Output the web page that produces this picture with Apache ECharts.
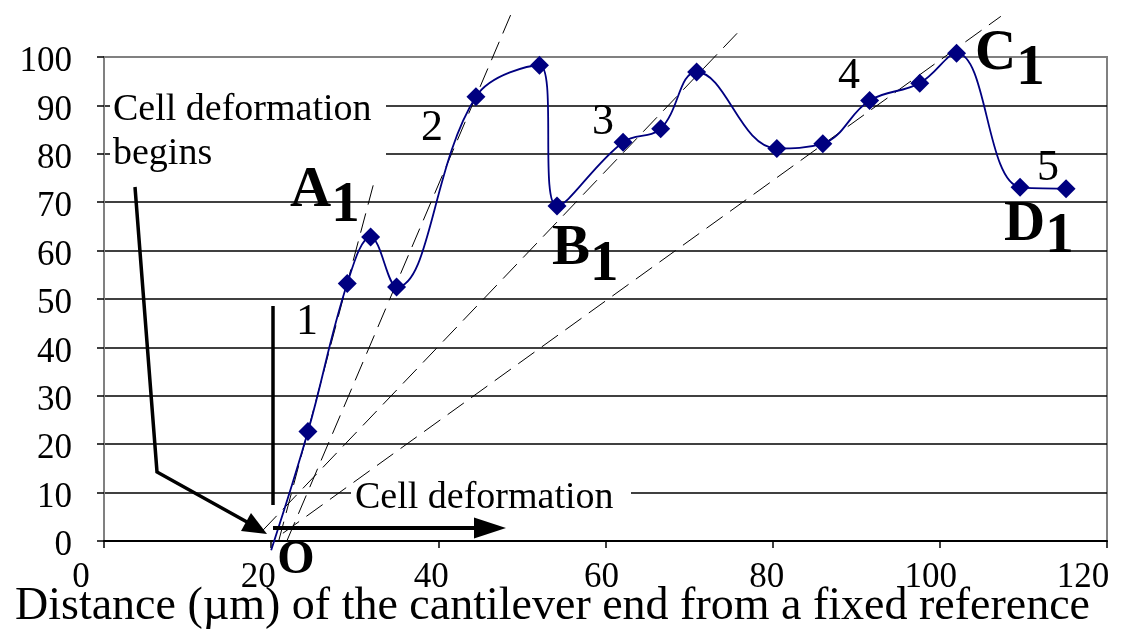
<!DOCTYPE html>
<html>
<head>
<meta charset="utf-8">
<script src="https://cdn.jsdelivr.net/npm/echarts@6/dist/echarts.min.js"></script>
<style>
html,body{margin:0;padding:0;background:#fff;}
#chart{width:1125px;height:636px;}
</style>
</head>
<body>
<div id="chart"></div>
<script>
// ---- data ----
const distance = [20, 24.4, 29.1, 31.9, 35.0, 44.5, 52.1, 54.2, 62.1, 66.6, 70.9, 80.5, 86.0, 91.6, 97.6, 102.0, 109.6, 115.1];
const deflection = [-1.9, 22.6, 53.2, 62.8, 52.5, 91.8, 98.3, 69.2, 82.4, 85.2, 96.9, 81.1, 82.1, 91.0, 94.6, 100.8, 73.1, 72.8];
// dashed guide lines (start and end points, data units)
const guideA = [[20.9, 0], [32.3, 74.1]];
const guideB = [[21.9, 0.1], [49.0, 110.1]];
const guideC = [[19.0, 2.2], [76.3, 105.9]];
const guideD = [[21.4, 1.6], [107.3, 108.4]];
const xTickValues = [0, 20, 40, 60, 80, 100, 120];
const yTickValues = [0, 10, 20, 30, 40, 50, 60, 70, 80, 90, 100];
const xTitle = 'Distance (\u00b5m) of the cantilever end from a fixed reference';

// ---- styling ----
const SERIF = "'Liberation Serif','Times New Roman',serif";
const xLabelShift = {0: -23, 20: -13, 40: -7, 60: -4, 80: -6, 100: -9, 120: -24};
const rich = {};
xTickValues.forEach(v => {
  const s = xLabelShift[v] || 0;
  rich['p' + v] = {fontFamily: SERIF, fontSize: 35, lineHeight: 35, color: '#000',
    padding: s < 0 ? [0, -2 * s, 0, 0] : [0, 0, 0, 2 * s]};
});
const splitColors = yTickValues.map(v => v === 100 ? '#808080' : '#000');

const pts = distance.map((x, i) => {
  const d = {value: [x, deflection[i]]};
  if (i === 0) { d.symbol = 'none'; }
  return d;
});

function guide(p) {
  return {
    type: 'line', data: p, showSymbol: false, symbol: 'none', clip: false, silent: true, z: 1,
    lineStyle: {color: '#000', width: 1, type: [20, 9]}
  };
}

function numText(t, x, y) {
  return {type: 'text', x: x, y: y, z: 20, style: {text: t, fontFamily: SERIF, fontSize: 44,
    fill: '#000', align: 'center', verticalAlign: 'middle'}};
}
function subLabel(a, b, x, y, drop) {
  return {type: 'text', x: x, y: y, z: 20, style: {
    text: '{m|' + a + '}{s|' + b + '}', align: 'left', verticalAlign: 'top',
    rich: {
      m: {fontFamily: SERIF, fontSize: 57, fontWeight: 'bold', lineHeight: 57, verticalAlign: 'top', fill: '#000'},
      s: {fontFamily: SERIF, fontSize: 57, fontWeight: 'bold', lineHeight: 57, verticalAlign: 'top', padding: [drop, 0, 0, 0], fill: '#000'}
    }}};
}

const chart = echarts.init(document.getElementById('chart'), null, {renderer: 'canvas'});
chart.setOption({
  animation: false,
  backgroundColor: '#fff',
  grid: {left: 104, right: 18, top: 57, bottom: 95, containLabel: false, outerBoundsMode: 'none',
    show: true, borderColor: '#808080', borderWidth: 2, backgroundColor: 'transparent'},
  xAxis: {
    type: 'value', min: 0, max: 120, interval: 20,
    name: xTitle, nameLocation: 'middle', nameGap: 43, nameMoveOverlap: false,
    nameTextStyle: {fontFamily: SERIF, fontSize: 46, lineHeight: 46, color: '#000', padding: [0, 106, 0, 0]},
    axisLine: {show: true, lineStyle: {color: '#000', width: 2}},
    axisTick: {show: true, inside: false, length: 7, lineStyle: {color: '#000', width: 1.5}},
    axisLabel: {margin: 19, formatter: v => '{p' + v + '|' + v + '}', rich: rich, hideOverlap: false},
    splitLine: {show: false}
  },
  yAxis: {
    type: 'value', min: 0, max: 100, interval: 10,
    axisLine: {show: true, lineStyle: {color: '#808080', width: 2}},
    axisTick: {show: true, length: 7, lineStyle: {color: '#000', width: 1.5}},
    axisLabel: {margin: 32, fontFamily: SERIF, fontSize: 35, color: '#000', verticalAlign: 'top', lineHeight: 10},
    splitLine: {show: true, lineStyle: {color: splitColors, width: 1.6}}
  },
  series: [
    guide(guideA), guide(guideB), guide(guideC), guide(guideD),
    {
      type: 'line', data: pts, smooth: 0.4, clip: false, z: 5,
      symbol: 'diamond', symbolSize: 19,
      itemStyle: {color: '#000080'},
      lineStyle: {color: '#000080', width: 1.8}
    }
  ],
  graphic: [
    // white text boxes
    {type: 'rect', z: 1, shape: {x: 110, y: 84, width: 276, height: 95}, style: {fill: '#fff'}},
    {type: 'rect', z: 1, shape: {x: 351, y: 478, width: 280, height: 38}, style: {fill: '#fff'}},
    {type: 'text', x: 113, y: 88, z: 20, style: {text: 'Cell deformation\nbegins', fontFamily: SERIF, fontSize: 38, lineHeight: 44, fill: '#000', align: 'left', verticalAlign: 'top'}},
    {type: 'text', x: 355, y: 498, z: 20, style: {text: 'Cell deformation', fontFamily: SERIF, fontSize: 38, fill: '#000', align: 'left', verticalAlign: 'middle'}},
    // arrows
    {type: 'polyline', z: 10, shape: {points: [[135, 187], [157, 472], [247, 522]]}, style: {stroke: '#000', lineWidth: 3.5, fill: null}},
    {type: 'polygon', z: 10, shape: {points: [[267, 534], [241, 531], [251, 513]]}, style: {fill: '#000'}},
    {type: 'line', z: 10, shape: {x1: 273, y1: 306, x2: 273, y2: 505}, style: {stroke: '#000', lineWidth: 3.5}},
    {type: 'line', z: 10, shape: {x1: 273, y1: 528, x2: 478, y2: 528}, style: {stroke: '#000', lineWidth: 4}},
    {type: 'polygon', z: 10, shape: {points: [[474, 517.5], [506, 528], [474, 538.5]]}, style: {fill: '#000'}},
    // segment numbers
    numText('1', 307, 322), numText('2', 432, 128), numText('3', 603, 122), numText('4', 849, 76), numText('5', 1048, 168),
    // point labels
    subLabel('A', '1', 290, 163, 15),
    subLabel('B', '1', 552, 221, 16),
    subLabel('C', '1', 975, 26, 15),
    subLabel('D', '1', 1004, 197, 12),
    {type: 'text', x: 296, y: 561, z: 20, style: {text: 'O', fontFamily: SERIF, fontSize: 48, fontWeight: 'bold', fill: '#000', align: 'center', verticalAlign: 'middle'}}
  ]
});
</script>
</body>
</html>
